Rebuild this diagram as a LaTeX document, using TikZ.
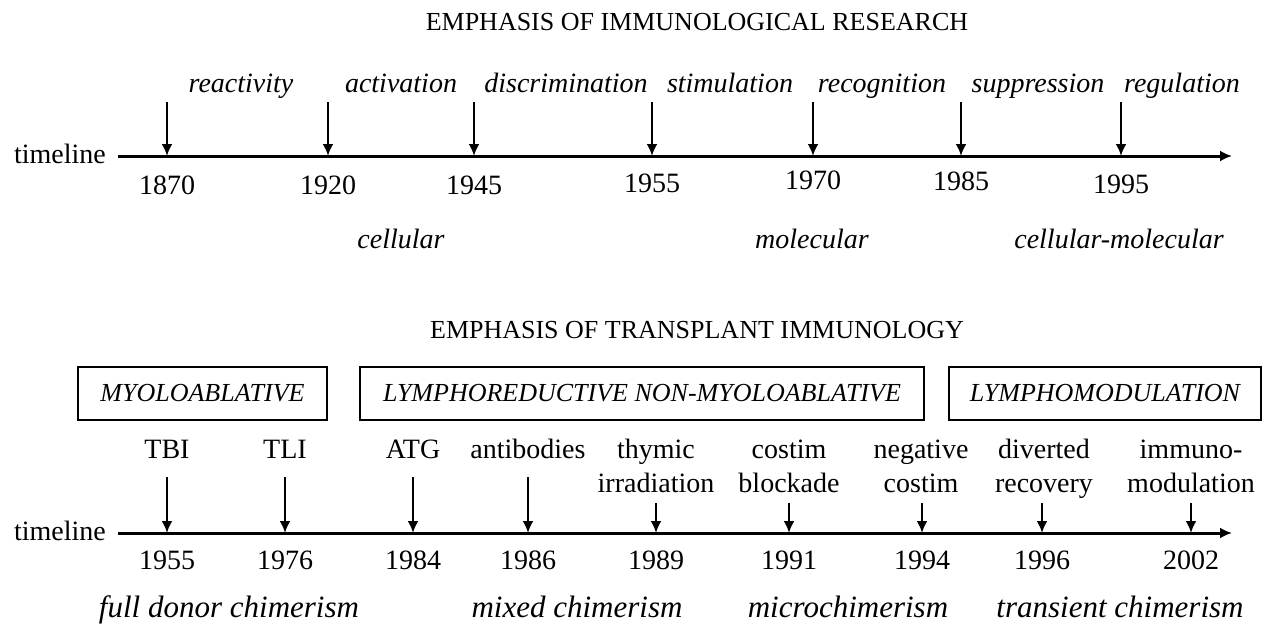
\documentclass[tikz,border=0pt]{standalone}
\usepackage{fontspec}
\setmainfont{Liberation Serif}
\usetikzlibrary{arrows.meta}
\tikzset{
  txt/.style={font=\fontsize{28}{34}\selectfont,inner sep=0pt,anchor=base},
  itx/.style={txt,font=\fontsize{28}{34}\selectfont\itshape},
  chim/.style={txt,font=\fontsize{31}{36}\selectfont\itshape},
  head/.style={txt,font=\fontsize{26}{30}\selectfont},
  era/.style={draw,line width=2.4pt,minimum height=53pt,inner sep=0pt,font=\fontsize{26}{30}\selectfont\itshape},
  tick/.style={line width=2.4pt,-{Latex[length=12pt,width=11pt]}},
  axis/.style={line width=3pt,-{Latex[length=12pt,width=11pt]}}
}
\begin{document}
\begin{tikzpicture}[x=1pt,y=-1pt]
\useasboundingbox (0,0) rectangle (1268,627);
\node[head] (res) at (697,30) {EMPHASIS OF IMMUNOLOGICAL RESEARCH};
\node[txt] (tl1) at (60,163) {timeline};
\coordinate (s1) at (118,156);
\coordinate (e1) at (1232,156);
\draw[axis] (s1) -- (e1);
\node[itx] (react) at (241,92) {reactivity};
\node[itx] (activ) at (401,92) {activation};
\node[itx] (discr) at (566,92) {discrimination};
\node[itx] (stimu) at (730,92) {stimulation};
\node[itx] (recog) at (882,92) {recognition};
\node[itx] (suppr) at (1038,92) {suppression};
\node[itx] (regul) at (1182,92) {regulation};
\coordinate (r1870) at (167,102); \coordinate (p1870) at (167,156);
\coordinate (r1920) at (328,102); \coordinate (p1920) at (328,156);
\coordinate (r1945) at (474,102); \coordinate (p1945) at (474,156);
\coordinate (r1955) at (652,102); \coordinate (p1955) at (652,156);
\coordinate (r1970) at (813,102); \coordinate (p1970) at (813,156);
\coordinate (r1985) at (961,102); \coordinate (p1985) at (961,156);
\coordinate (r1995) at (1121,102); \coordinate (p1995) at (1121,156);
\draw[tick] (r1870) -- (p1870);
\draw[tick] (r1920) -- (p1920);
\draw[tick] (r1945) -- (p1945);
\draw[tick] (r1955) -- (p1955);
\draw[tick] (r1970) -- (p1970);
\draw[tick] (r1985) -- (p1985);
\draw[tick] (r1995) -- (p1995);
\node[txt] (y1870) at (167,194) {1870};
\node[txt] (y1920) at (328,194) {1920};
\node[txt] (y1945) at (474,194) {1945};
\node[txt] (y1955) at (652,192) {1955};
\node[txt] (y1970) at (813,189) {1970};
\node[txt] (y1985) at (961,190) {1985};
\node[txt] (y1995) at (1121,193) {1995};
\node[itx] (cell) at (401,248) {cellular};
\node[itx] (mol) at (812,248) {molecular};
\node[itx] (cellmol) at (1119,248) {cellular-molecular};

\node[head] (trans) at (697,338) {EMPHASIS OF TRANSPLANT IMMUNOLOGY};
\node[era,minimum width=249pt] (myelo) at (202.5,393.5) {MYOLOABLATIVE};
\node[era,minimum width=564pt] (lymred) at (642,393.5) {LYMPHOREDUCTIVE NON-MYOLOABLATIVE};
\node[era,minimum width=312pt] (lymmod) at (1105,393.5) {LYMPHOMODULATION};
\node[txt] (tbi) at (167,458) {TBI};
\node[txt] (tli) at (285,458) {TLI};
\node[txt] (atg) at (413,458) {ATG};
\node[txt] (antib) at (528,458) {antibodies};
\node[txt,align=center] (thym) at (656,492) {thymic\\irradiation};
\node[txt,align=center] (cblock) at (789,492) {costim\\blockade};
\node[txt,align=center] (negc) at (921,492) {negative\\costim};
\node[txt,align=center] (divert) at (1044,492) {diverted\\recovery};
\node[txt,align=center] (immod) at (1191,492) {immuno-\\modulation};
\node[txt] (tl2) at (60,540) {timeline};
\coordinate (s2) at (118,533);
\coordinate (e2) at (1232,533);
\draw[axis] (s2) -- (e2);
\coordinate (q1955) at (167,477); \coordinate (d1955) at (167,533);
\coordinate (q1976) at (285,477); \coordinate (d1976) at (285,533);
\coordinate (q1984) at (413,477); \coordinate (d1984) at (413,533);
\coordinate (q1986) at (528,477); \coordinate (d1986) at (528,533);
\coordinate (q1989) at (656,503); \coordinate (d1989) at (656,533);
\coordinate (q1991) at (789,503); \coordinate (d1991) at (789,533);
\coordinate (q1994) at (922,503); \coordinate (d1994) at (922,533);
\coordinate (q1996) at (1042,503); \coordinate (d1996) at (1042,533);
\coordinate (q2002) at (1191,503); \coordinate (d2002) at (1191,533);
\draw[tick] (q1955) -- (d1955);
\draw[tick] (q1976) -- (d1976);
\draw[tick] (q1984) -- (d1984);
\draw[tick] (q1986) -- (d1986);
\draw[tick] (q1989) -- (d1989);
\draw[tick] (q1991) -- (d1991);
\draw[tick] (q1994) -- (d1994);
\draw[tick] (q1996) -- (d1996);
\draw[tick] (q2002) -- (d2002);
\node[txt] (z1955) at (167,569) {1955};
\node[txt] (z1976) at (285,569) {1976};
\node[txt] (z1984) at (413,569) {1984};
\node[txt] (z1986) at (528,569) {1986};
\node[txt] (z1989) at (656,569) {1989};
\node[txt] (z1991) at (789,569) {1991};
\node[txt] (z1994) at (922,569) {1994};
\node[txt] (z1996) at (1042,569) {1996};
\node[txt] (z2002) at (1191,569) {2002};
\node[chim] (full) at (229,617) {full donor chimerism};
\node[chim] (mixed) at (577,617) {mixed chimerism};
\node[chim] (micro) at (848,617) {microchimerism};
\node[chim] (transi) at (1120,617) {transient chimerism};
\end{tikzpicture}
\end{document}
